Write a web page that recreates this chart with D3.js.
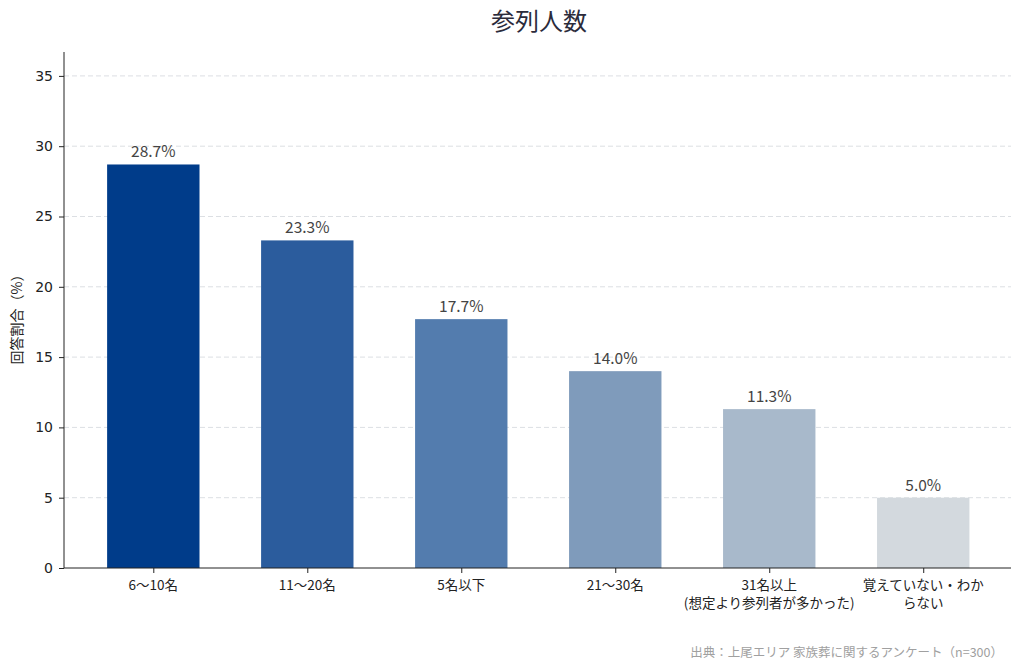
<!DOCTYPE html>
<html>
<head>
<meta charset="utf-8">
<script src="https://cdn.jsdelivr.net/npm/d3@7"></script>
<style>
  body { margin: 0; background: #fff; }
  svg { font-family: "Noto Sans CJK JP", "Noto Sans", sans-serif; }
</style>
</head>
<body>
<svg id="chart" width="1024" height="671"></svg>
<script>
const categories = ['6〜10名', '11〜20名', '5名以下', '21〜30名', '31名以上\n(想定より参列者が多かった)', '覚えていない・わか\nらない'];
const values = [28.7, 23.3, 17.7, 14.0, 11.3, 5.0];
const barColors = ['#003c8a', '#2b5c9d', '#537cae', '#7f9bbb', '#a8b9cb', '#d3d9de'];
const yTicks = [0, 5, 10, 15, 20, 25, 30, 35];

const svg = d3.select('#chart');
const plotLeft = 64, plotRight = 1011, plotTop = 52, plotBottom = 568;

let x = d3.scaleLinear()
    .domain([-0.58, 5.57])
    .range([plotLeft, plotRight]);

let y = d3.scaleLinear()
    .domain([0, 36.7])
    .range([plotBottom, plotTop]);

let barWidth = x(0.6) - x(0);

// grid
svg.append('g')
    .selectAll('line')
    .data(yTicks.filter(t => t > 0))
    .enter()
    .append('line')
    .attr('x1', plotLeft)
    .attr('x2', plotRight)
    .attr('y1', d => y(d))
    .attr('y2', d => y(d))
    .attr('stroke', '#dcdfe3')
    .attr('stroke-dasharray', '5,3');

// bars
svg.append('g')
    .selectAll('rect')
    .data(values)
    .enter()
    .append('rect')
    .attr('x', (d, i) => x(i) - barWidth / 2)
    .attr('y', d => y(d))
    .attr('width', barWidth)
    .attr('height', d => plotBottom - y(d))
    .attr('fill', (d, i) => barColors[i]);

// value labels
svg.append('g')
    .selectAll('text')
    .data(values)
    .enter()
    .append('text')
    .attr('x', (d, i) => x(i))
    .attr('y', d => y(d) - 7)
    .attr('text-anchor', 'middle')
    .attr('font-size', 15.5)
    .attr('fill', '#444')
    .text(d => d.toFixed(1) + '%');

// y axis
let yAxis = svg.append('g')
    .attr('transform', `translate(${plotLeft},0)`)
    .call(d3.axisLeft(y).tickValues(yTicks).tickSize(5).tickPadding(6));
yAxis.select('.domain').attr('d', `M0,${plotBottom}V${plotTop}`).attr('stroke', '#222');
yAxis.selectAll('.tick line').attr('stroke', '#222');
yAxis.selectAll('.tick text').attr('font-size', 14).attr('fill', '#222')
    .attr('font-family', '"DejaVu Sans", sans-serif');

// x axis
let xAxis = svg.append('g')
    .attr('transform', `translate(0,${plotBottom})`)
    .call(d3.axisBottom(x).tickValues(d3.range(categories.length)).tickSize(5).tickFormat(''));
xAxis.select('.domain').attr('d', `M${plotLeft},0H${plotRight}`).attr('stroke', '#222');
xAxis.selectAll('.tick line').attr('stroke', '#222');

let xLabels = svg.append('g')
    .selectAll('text')
    .data(categories)
    .enter()
    .append('text')
    .attr('x', (d, i) => x(i))
    .attr('y', plotBottom + 22)
    .attr('text-anchor', 'middle')
    .attr('font-size', 13.5)
    .attr('fill', '#222');
xLabels.each(function (d) {
    d.split('\n').forEach((line, j) => {
        d3.select(this).append('tspan')
            .attr('x', d3.select(this).attr('x'))
            .attr('dy', j === 0 ? 0 : 18)
            .text(line);
    });
});

// y label
svg.append('text')
    .attr('transform', `translate(22,${(plotTop + plotBottom) / 2 + 6}) rotate(-90)`)
    .attr('text-anchor', 'middle')
    .attr('font-size', 14)
    .attr('fill', '#222')
    .text('回答割合（%）');

// title
svg.append('text')
    .attr('x', 539)
    .attr('y', 30)
    .attr('text-anchor', 'middle')
    .attr('font-size', 24)
    .attr('fill', '#2b2b3b')
    .text('参列人数');

// source
svg.append('text')
    .attr('x', 1003)
    .attr('y', 657)
    .attr('text-anchor', 'end')
    .attr('font-size', 12.5)
    .attr('fill', '#a0a0a0')
    .text('出典：上尾エリア 家族葬に関するアンケート（n=300）');
</script>
</body>
</html>
